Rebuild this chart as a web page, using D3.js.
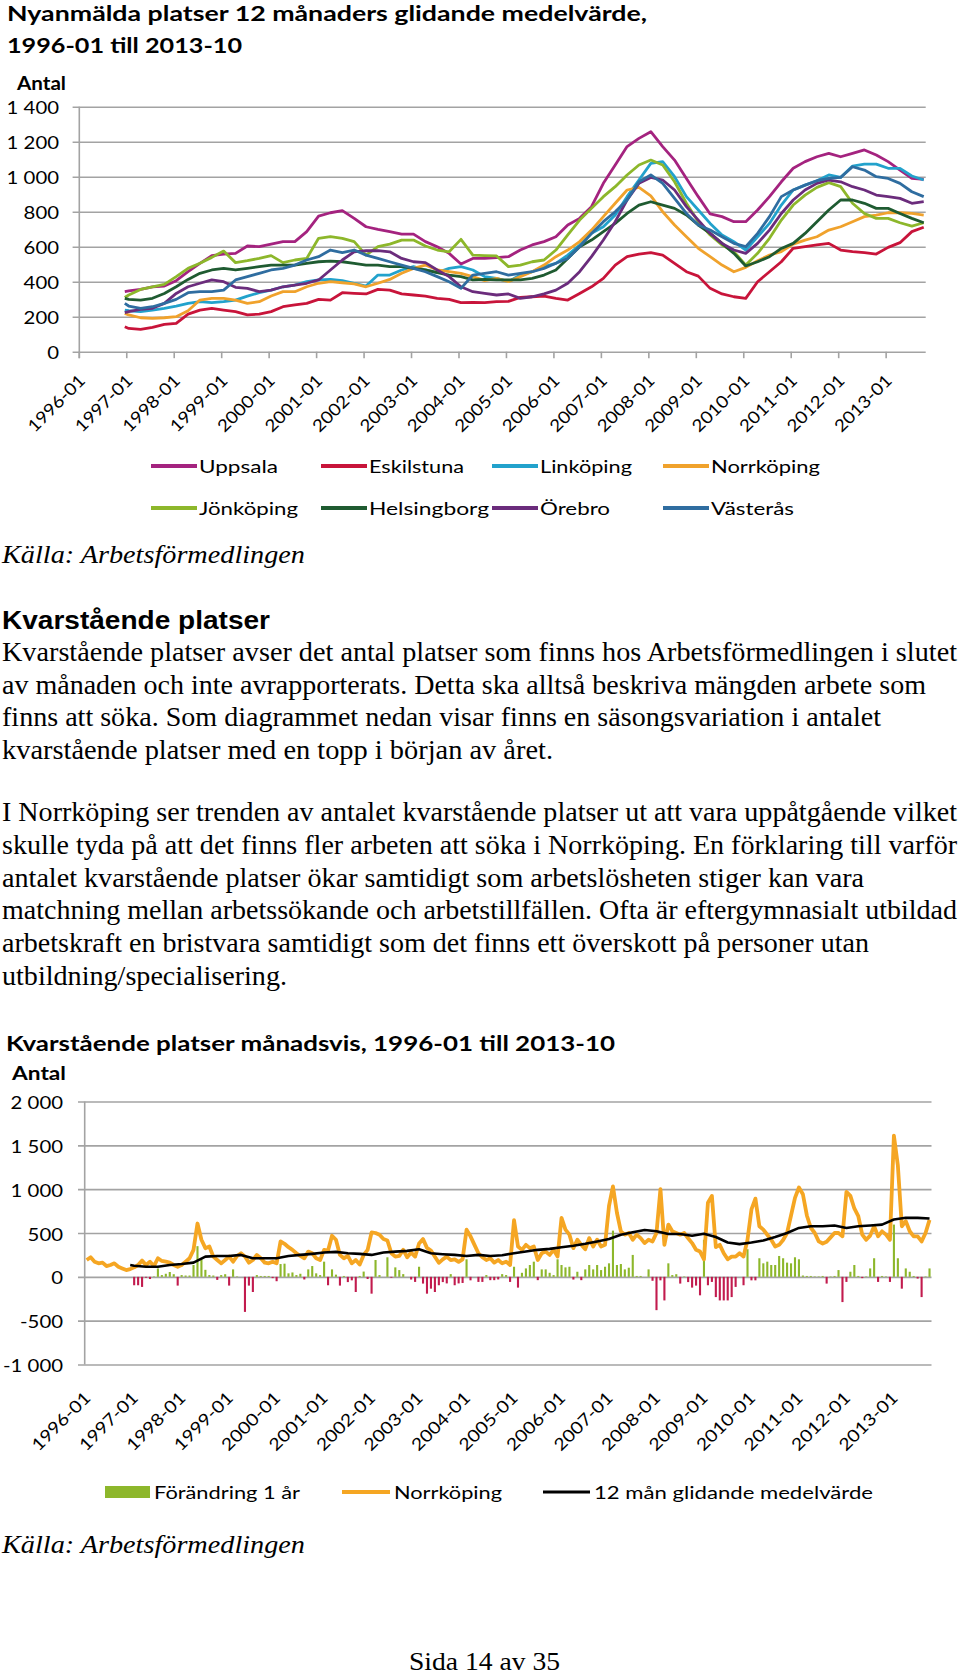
<!DOCTYPE html>
<html><head><meta charset="utf-8">
<script src="https://cdn.jsdelivr.net/npm/d3@7"></script>
<style>
html,body{margin:0;padding:0;background:#fff;}
svg{display:block;}
</style></head>
<body>
<svg id="page" width="960" height="1677"></svg>
<script>
// ---------------- DATA ----------------
const categories = [];
for (let y = 1996; y <= 2013; y++) for (let m = 1; m <= 12; m++) {
  if (y === 2013 && m > 10) break;
  categories.push(y + "-" + String(m).padStart(2, "0"));
}
const tickLabels = ["1996-01","1997-01","1998-01","1999-01","2000-01","2001-01","2002-01","2003-01","2004-01",
  "2005-01","2006-01","2007-01","2008-01","2009-01","2010-01","2011-01","2012-01","2013-01"];

// months at which the 12-month averages were read (1996-12, then quarterly to 2013-10)
const avgMonths = ["1996-12"].concat(d3.range(12, 214, 3).map(i => categories[i]));

const topYTicks = [0, 200, 400, 600, 800, 1000, 1200, 1400];
const topYLabels = ["0", "200", "400", "600", "800", "1 000", "1 200", "1 400"];

const uppsala = [343, 347,356,371,375, 406,457,505,549, 558,562,604,600, 615,629,629,686, 775,794,806,762,
  714,699,686,672, 672,629,600,562, 501,533,533,537, 543,581,610,629, 657,724,762,829, 962,1067,1172,1219,
  1257,1172,1095,990, 886,787,772,743, 743,810,886,971, 1048,1086,1114,1133, 1114,1133,1153,1124, 1086,1038,990,985];
const eskilstuna = [143, 133,128,139,156, 162,215,238,248, 238,229,210,215, 229,257,267,276, 299,295,337,333,
  330,356,352,330, 324,318,305,299, 280,282,280,286, 288,310,314,318, 305,295,333,371, 419,495,543,558,
  566,552,505,457, 432,362,330,314, 305,400,457,514, 591,600,610,619, 581,572,566,558, 596,623,686,711];
const linkoping = [238, 234,229,238,248, 261,276,286,280, 286,295,318,337, 352,371,381,400, 410,413,406,391,
  375,438,438,467, 486,467,452,476, 486,467,429,419, 400,438,457,486, 505,552,610,676, 714,781,886,981,
  1076,1086,1000,886, 810,733,667,629, 581,657,733,838, 924,952,977,1010, 996,1061,1072,1072, 1048,1048,1004,981];
const norrkoping = [219, 210,194,190,194, 200,234,295,305, 305,295,276,286, 318,343,343,371, 391,400,394,387,
  371,391,413,448, 476,495,467,457, 448,429,406,419, 400,429,457,495, 543,581,629,695, 772,848,924,939,
  890,800,724,657, 591,543,495,457, 482,520,552,572, 615,638,657,695, 714,743,772,781, 794,794,790,781];
const jonkoping = [310, 324,356,371,385, 429,476,505,539, 575,509,520,533, 549,509,524,533, 648,657,648,629,
  552,600,615,638, 638,604,581,571, 642,552,549,547, 486,495,514,524, 581,667,752,819, 886,943,1010,1067,
  1095,1067,971,848, 743,667,610,572, 495,562,648,752, 838,895,939,966, 943,848,790,762, 762,737,718,737];
const helsingborg = [305, 299,295,305,333, 371,413,448,467, 476,467,476,486, 495,495,495,505, 514,518,514,505,
  495,495,486,486, 476,467,452,438, 429,410,413,410, 410,410,419,438, 467,533,600,638, 686,733,790,838,
  857,838,819,781, 724,676,619,562, 490,514,543,590, 619,676,743,810, 867,867,848,819, 819,790,762,737];
const orebro = [223, 229,242,248,276, 333,371,391,410, 400,368,362,343, 352,371,381,391, 410,467,524,571,
  577,577,571,533, 514,509,467,429, 371,343,333,324, 330,305,314,330, 352,391,457,543, 638,743,867,962,
  996,981,924,829, 752,676,619,581, 562,619,695,790, 867,924,962,981, 971,943,924,895, 886,876,848,857];
const vasteras = [276, 261,248,257,276, 299,337,343,343, 352,410,429,448, 467,476,495,524, 543,581,566,581,
  552,533,514,495, 476,457,429,400, 362,438,448,457, 438,448,457,476, 505,533,600,676, 743,800,867,971,
  1010,962,876,790, 724,695,657,619, 600,676,772,886, 924,952,977,990, 996,1057,1038,1000, 990,962,914,886];

const seriesNames = ["Uppsala","Eskilstuna","Linköping","Norrköping","Jönköping","Helsingborg","Örebro","Västerås"];
const seriesColors = ["#A4237F","#C8143A","#22A2CC","#F0A22C","#8DB72B","#1F5B31","#6B2C7C","#2F6DA0"];
const seriesValues = [uppsala, eskilstuna, linkoping, norrkoping, jonkoping, helsingborg, orebro, vasteras];

// Chart 2
const botYTicks = [-1000, -500, 0, 500, 1000, 1500, 2000];
const botYLabels = ["-1 000", "-500", "0", "500", "1 000", "1 500", "2 000"];

const norrkopingMonthly = [
  192,223,173,154,162,123,135,154,115,96,77,88,
  108,135,185,135,173,123,212,181,173,162,135,115,
  135,173,212,308,608,423,327,346,231,192,154,192,
  231,173,238,269,231,162,192,250,212,162,154,173,
  154,404,377,338,308,269,238,212,288,269,212,192,
  308,300,469,423,250,212,238,154,192,140,250,308,
  508,500,480,431,415,269,231,238,308,223,277,231,
  380,430,330,300,230,160,200,230,190,200,170,200,
  538,462,365,269,223,192,212,162,192,154,173,135,
  646,346,308,365,327,346,192,269,288,250,308,231,
  673,538,481,327,423,365,315,442,346,423,346,365,
  808,1031,731,519,481,500,423,481,442,385,423,404,
  500,1000,365,596,519,500,481,500,440,385,308,288,
  200,846,923,340,365,269,200,231,231,269,231,423,
  769,892,577,538,480,423,346,365,420,500,700,900,
  1019,942,700,560,500,404,380,400,450,500,500,462,
  969,923,780,692,481,423,470,577,462,519,481,423,
  1610,1269,577,635,520,462,462,404,500,650];

const movingAvg = [135, 127,115,115,135, 146,162,231,238, 238,250,212,212, 212,238,250,262, 277,285,269,262,
  250,277,288,296, 315,269,258,250, 238,250,238,246, 269,288,308,319, 338,354,377,404, 431,481,508,535,
  520,488,488,469, 492,454,392,373, 392,415,454,500, 558,577,577,585, 558,577,585,596, 654,673,673,665];

// Förändring 1 år, monthly from 1997-01
const change1y = [
  -96,-96,-115,-10,-25,5,96,20,35,55,30,-100,
  20,15,15,135,350,200,80,20,15,-35,20,30,
  -100,85,5,0,-400,-100,-173,20,10,10,10,-15,
  -50,146,150,40,50,20,35,-30,85,123,40,20,
  173,-96,85,25,-100,10,-60,-40,-173,10,60,-25,
  -192,192,20,0,223,-10,108,77,31,0,-31,-58,
  115,-77,-192,-135,-173,-96,-60,-75,31,-96,-75,-70,
  200,-40,0,-58,-58,20,-38,-38,-30,31,20,-58,
  115,-123,46,96,135,173,-38,85,85,46,20,200,
  135,108,115,-31,58,-38,85,135,85,135,77,115,
  154,527,135,146,85,104,250,10,10,0,85,-45,
  -380,-40,-269,154,20,30,-77,5,-60,-123,-100,-211,
  423,-96,-58,-231,-269,-269,-269,-231,-115,0,-96,315,
  -40,-40,212,154,173,135,135,238,212,162,154,223,
  200,15,10,10,5,5,10,-77,5,10,77,-288,
  -58,58,135,10,-15,5,96,212,-58,10,5,-58,
  596,212,-135,96,58,10,-20,-231,5,96];
const changeMonths = categories.slice(12);

// ---------------- DRAWING ----------------
const svg = d3.select("#page");
const SANS = "Lato, 'Open Sans', sans-serif";
const SERIF = "'Liberation Serif', 'Times New Roman', serif";
const ARIAL = "'Liberation Sans', Arial, sans-serif";
const GRID = "#a3a3a3";

function addText(x, y, str, o) {
  const t = svg.append("text").attr("x", x).attr("y", y).text(str)
    .style("font-family", o.family).style("font-size", o.size + "px")
    .style("font-weight", o.weight || "normal").style("font-style", o.style || "normal")
    .attr("fill", "#000");
  if (o.width) t.attr("textLength", o.width).attr("lengthAdjust", "spacingAndGlyphs");
  if (o.anchor) t.attr("text-anchor", o.anchor);
  return t;
}
function stretch(sel, f) {
  sel.each(function () {
    const L = this.getComputedTextLength();
    d3.select(this).attr("textLength", L * f).attr("lengthAdjust", "spacingAndGlyphs");
  });
}

function drawFrame(cfg) {
  const { x, y, yTicks, yLabels, left, right, labelRight, axisY, labelDY, xTicks, labelLen } = cfg;
  const g = svg.append("g");
  // gridlines
  g.append("g").attr("transform", `translate(${left - 6.7},0)`)
    .call(d3.axisLeft(y).tickValues(yTicks).tickSize(-(right - left + 6.7)).tickFormat(""))
    .call(s => s.select(".domain").remove())
    .call(s => s.selectAll("line").attr("stroke", GRID).attr("stroke-width", 1.6));
  // value labels
  const lab = g.append("g").attr("transform", `translate(${labelRight},0)`)
    .call(d3.axisLeft(y).tickValues(yTicks).tickSize(0).tickPadding(0).tickFormat((d, i) => yLabels[i]));
  lab.select(".domain").remove();
  lab.selectAll("text").attr("dy", null).attr("y", 7)
    .style("font-family", SANS).style("font-size", "18px").attr("fill", "#000");
  stretch(lab.selectAll("text"), 1.13);
  // vertical axis
  g.append("line").attr("x1", left).attr("x2", left)
    .attr("y1", y(yTicks[yTicks.length - 1])).attr("y2", cfg.axisBottom)
    .attr("stroke", GRID).attr("stroke-width", 1.6);
  // x ticks
  if (xTicks) {
    g.selectAll(".xt").data(tickLabels).join("line")
      .attr("x1", d => x(d)).attr("x2", d => x(d))
      .attr("y1", y(0)).attr("y2", y(0) + 6.5)
      .attr("stroke", GRID).attr("stroke-width", 1.6);
  }
  // x labels
  const bw = x.bandwidth();
  g.selectAll(".xl").data(tickLabels).join("text")
    .attr("transform", d => `translate(${x(d) + bw / 2 + 5},${axisY + labelDY}) rotate(-45)`)
    .attr("text-anchor", "end")
    .style("font-family", SANS).style("font-size", "17px").attr("fill", "#000")
    .attr("textLength", labelLen).attr("lengthAdjust", "spacingAndGlyphs")
    .text(d => d);
  return g;
}

// ===== Chart 1 =====
addText(7, 21, "Nyanmälda platser 12 månaders glidande medelvärde,", { family: SANS, size: 21, weight: "bold", width: 640 });
addText(7, 53, "1996-01 till 2013-10", { family: SANS, size: 21, weight: "bold", width: 235 });
addText(17, 90, "Antal", { family: SANS, size: 18, weight: "bold", width: 49 });

const topX = d3.scaleBand().domain(categories).range([79.3, 925.7]).padding(0);
const topY = d3.scaleLinear().domain([0, 1400]).range([351.7, 106.7]);
drawFrame({ x: topX, y: topY, yTicks: topYTicks, yLabels: topYLabels, left: 79.3, right: 925.7,
  labelRight: 59, axisY: 351.7, axisBottom: 358.2, labelDY: 30, xTicks: true, labelLen: 73 });

const topLine = d3.line().x(d => topX(d.m) + topX.bandwidth() / 2).y(d => topY(d.v));
const gLines = svg.append("g");
seriesValues.forEach((vals, k) => {
  gLines.append("path")
    .datum(vals.map((v, i) => ({ m: avgMonths[i], v })))
    .attr("d", topLine).attr("fill", "none")
    .attr("stroke", seriesColors[k]).attr("stroke-width", 2.8).attr("stroke-linejoin", "round");
});

// Legend 1
const leg1 = [
  { x: 151, y: 466, tw: 79 }, { x: 321, y: 466, tw: 95 }, { x: 492, y: 466, tw: 92 }, { x: 663, y: 466, tw: 109 },
  { x: 151, y: 508, tw: 99 }, { x: 321, y: 508, tw: 120 }, { x: 492, y: 508, tw: 70 }, { x: 663, y: 508, tw: 83 }];
leg1.forEach((p, k) => {
  svg.append("line").attr("x1", p.x).attr("x2", p.x + 46).attr("y1", p.y).attr("y2", p.y)
    .attr("stroke", seriesColors[k]).attr("stroke-width", 4);
  addText(p.x + 48, p.y + 6.5, seriesNames[k], { family: SANS, size: 18, width: p.tw });
});

addText(2, 563, "Källa: Arbetsförmedlingen", { family: SERIF, size: 26, style: "italic", width: 303 });

// ===== Text block =====
addText(2, 629, "Kvarstående platser", { family: ARIAL, size: 26, weight: "bold", width: 268 });
const bodyLines = [
  ["Kvarstående platser avser det antal platser som finns hos Arbetsförmedlingen i slutet", 660.7, 955],
  ["av månaden och inte avrapporterats. Detta ska alltså beskriva mängden arbete som", 693.5, 924],
  ["finns att söka. Som diagrammet nedan visar finns en säsongsvariation i antalet", 726.3, 879],
  ["kvarstående platser med en topp i början av året.", 759, 551],
  ["I Norrköping ser trenden av antalet kvarstående platser ut att vara uppåtgående vilket", 821, 955],
  ["skulle tyda på att det finns fler arbeten att söka i Norrköping. En förklaring till varför", 853.8, 955],
  ["antalet kvarstående platser ökar samtidigt som arbetslösheten stiger kan vara", 886.6, 862],
  ["matchning mellan arbetssökande och arbetstillfällen. Ofta är eftergymnasialt utbildad", 919.4, 955],
  ["arbetskraft en bristvara samtidigt som det finns ett överskott på personer utan", 952.2, 867],
  ["utbildning/specialisering.", 985, 285]];
bodyLines.forEach(([s, y, w]) => addText(2, y, s, { family: SERIF, size: 27, width: w }));

// ===== Chart 2 =====
addText(6, 1051, "Kvarstående platser månadsvis, 1996-01 till 2013-10", { family: SANS, size: 20, weight: "bold", width: 609 });
addText(12, 1080, "Antal", { family: SANS, size: 18, weight: "bold", width: 54 });

const botX = d3.scaleBand().domain(categories).range([84.7, 931.5]).padding(0);
const botY = d3.scaleLinear().domain([-1000, 2000]).range([1364.5, 1101.5]);
drawFrame({ x: botX, y: botY, yTicks: botYTicks, yLabels: botYLabels, left: 84.7, right: 931.5,
  labelRight: 63, axisY: 1364.5, axisBottom: 1364.5, labelDY: 34.5, xTicks: false, labelLen: 75 });

const bw2 = botX.bandwidth();
const barW = 2.1;
svg.append("g").selectAll("rect").data(change1y.map((v, i) => ({ m: changeMonths[i], v })))
  .join("rect")
  .attr("x", d => botX(d.m) + (bw2 - barW) / 2)
  .attr("width", barW)
  .attr("y", d => Math.min(botY(d.v), botY(0)))
  .attr("height", d => Math.abs(botY(d.v) - botY(0)))
  .attr("fill", d => d.v >= 0 ? "#8DB72B" : "#C21B4E");

const botLine = d3.line().x(d => botX(d.m) + bw2 / 2).y(d => botY(d.v));
svg.append("path").datum(norrkopingMonthly.map((v, i) => ({ m: categories[i], v })))
  .attr("d", botLine).attr("fill", "none").attr("stroke", "#F5A623")
  .attr("stroke-width", 3.8).attr("stroke-linejoin", "round");
svg.append("path").datum(movingAvg.map((v, i) => ({ m: avgMonths[i], v })))
  .attr("d", botLine).attr("fill", "none").attr("stroke", "#000")
  .attr("stroke-width", 2.6).attr("stroke-linejoin", "round");

// Legend 2
svg.append("rect").attr("x", 105).attr("y", 1486).attr("width", 45).attr("height", 12).attr("fill", "#8DB72B");
addText(154, 1499, "Förändring 1 år", { family: SANS, size: 18, width: 146 });
svg.append("line").attr("x1", 342).attr("x2", 390).attr("y1", 1492).attr("y2", 1492).attr("stroke", "#F5A623").attr("stroke-width", 4);
addText(394, 1499, "Norrköping", { family: SANS, size: 18, width: 108 });
svg.append("line").attr("x1", 543).attr("x2", 590).attr("y1", 1492).attr("y2", 1492).attr("stroke", "#000").attr("stroke-width", 3);
addText(594, 1499, "12 mån glidande medelvärde", { family: SANS, size: 18, width: 279 });

addText(2, 1553, "Källa: Arbetsförmedlingen", { family: SERIF, size: 26, style: "italic", width: 303 });
addText(409, 1670, "Sida 14 av 35", { family: SERIF, size: 26, width: 151 });
</script>
</body></html>
